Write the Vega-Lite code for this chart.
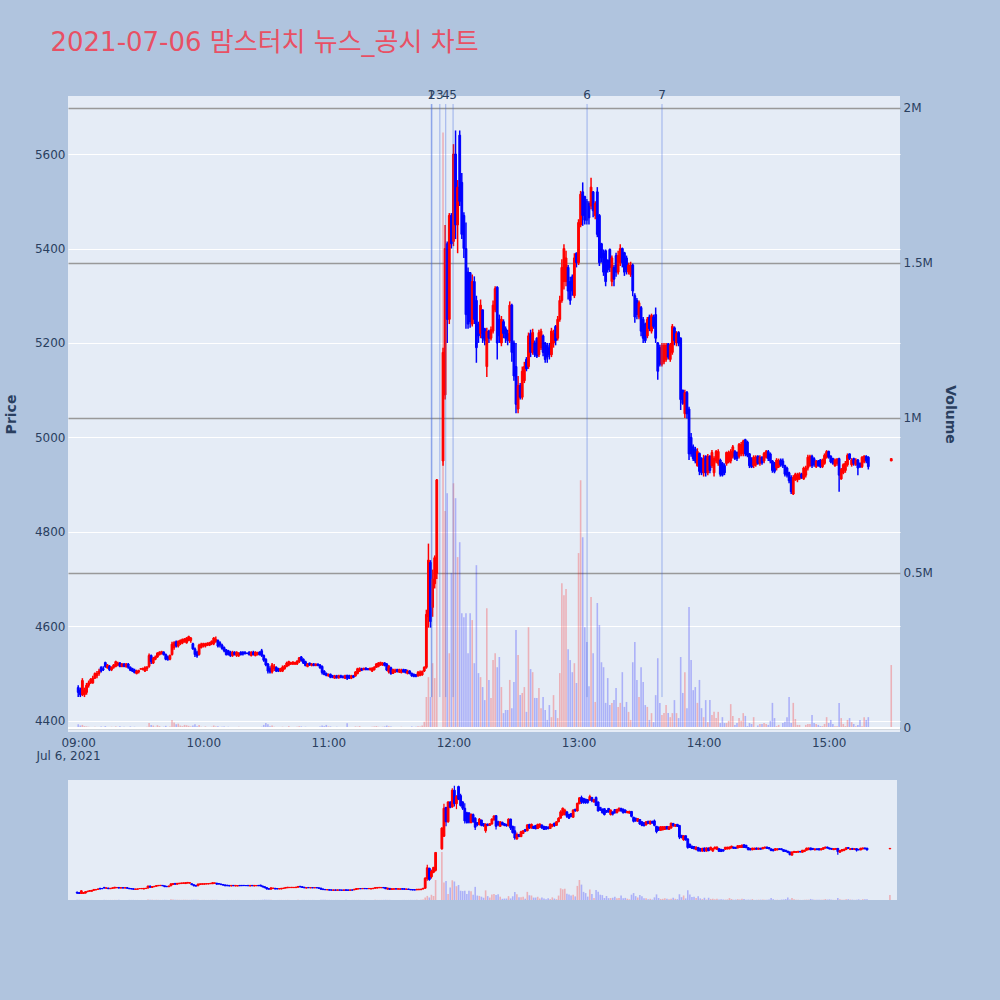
{
"$schema":"https://vega.github.io/schema/vega-lite/v6.json",
"background":"#B0C4DE",
"padding":{"left":4,"top":30,"right":43,"bottom":100},
"config":{"view":{"fill":"#E5ECF6","stroke":null},"font":"DejaVu Sans",
"axis":{"labelFont":"DejaVu Sans","titleFont":"DejaVu Sans","labelColor":"#2a3f5f","titleColor":"#2a3f5f","labelFontSize":12,"titleFontSize":14,"titleFontWeight":"bold","domain":false,"ticks":false}},
"title":{"text":"2021-07-06 맘스터치 뉴스_공시 차트","anchor":"start","dx":46,"offset":33,"font":"DejaVu Sans, Noto Sans CJK KR","fontSize":26,"fontWeight":"normal","color":"#E85064"},
"data":{"values":[
{"t":"2021-07-06T09:00","o":4470,"h":4475,"l":4450,"c":4460,"v":12000},
{"t":"2021-07-06T09:01","o":4465,"h":4470,"l":4450,"c":4455,"v":8000},
{"t":"2021-07-06T09:02","o":4455,"h":4490,"l":4452,"c":4485,"v":10000},
{"t":"2021-07-06T09:03","o":4455,"h":4470,"l":4450,"c":4465,"v":6000},
{"t":"2021-07-06T09:04","o":4460,"h":4480,"l":4455,"c":4475,"v":5000},
{"t":"2021-07-06T09:05","o":4475,"h":4485,"l":4470,"c":4480,"v":4000},
{"t":"2021-07-06T09:06","o":4480,"h":4490,"l":4478,"c":4488,"v":3000},
{"t":"2021-07-06T09:07","o":4480,"h":4495,"l":4478,"c":4490,"v":3000},
{"t":"2021-07-06T09:08","o":4490,"h":4502,"l":4488,"c":4500,"v":4000},
{"t":"2021-07-06T09:09","o":4495,"h":4505,"l":4490,"c":4500,"v":2000},
{"t":"2021-07-06T09:10","o":4500,"h":4510,"l":4495,"c":4505,"v":3000},
{"t":"2021-07-06T09:11","o":4513,"h":4515,"l":4502,"c":4505,"v":5000},
{"t":"2021-07-06T09:12","o":4510,"h":4515,"l":4505,"c":4508,"v":3000},
{"t":"2021-07-06T09:13","o":4523,"h":4525,"l":4512,"c":4515,"v":6000},
{"t":"2021-07-06T09:14","o":4512,"h":4520,"l":4510,"c":4518,"v":3000},
{"t":"2021-07-06T09:15","o":4515,"h":4518,"l":4505,"c":4508,"v":2000},
{"t":"2021-07-06T09:16","o":4508,"h":4515,"l":4505,"c":4513,"v":4000},
{"t":"2021-07-06T09:17","o":4513,"h":4520,"l":4510,"c":4518,"v":3000},
{"t":"2021-07-06T09:18","o":4515,"h":4527,"l":4513,"c":4525,"v":5000},
{"t":"2021-07-06T09:19","o":4518,"h":4525,"l":4515,"c":4522,"v":3000},
{"t":"2021-07-06T09:20","o":4522,"h":4524,"l":4513,"c":4515,"v":6000},
{"t":"2021-07-06T09:21","o":4515,"h":4522,"l":4513,"c":4520,"v":2000},
{"t":"2021-07-06T09:22","o":4520,"h":4522,"l":4513,"c":4515,"v":4000},
{"t":"2021-07-06T09:23","o":4515,"h":4522,"l":4512,"c":4520,"v":3000},
{"t":"2021-07-06T09:24","o":4520,"h":4522,"l":4510,"c":4513,"v":2000},
{"t":"2021-07-06T09:25","o":4513,"h":4515,"l":4505,"c":4507,"v":5000},
{"t":"2021-07-06T09:26","o":4510,"h":4512,"l":4503,"c":4505,"v":3000},
{"t":"2021-07-06T09:27","o":4507,"h":4510,"l":4500,"c":4502,"v":4000},
{"t":"2021-07-06T09:28","o":4500,"h":4508,"l":4498,"c":4505,"v":2000},
{"t":"2021-07-06T09:29","o":4503,"h":4508,"l":4500,"c":4506,"v":3000},
{"t":"2021-07-06T09:30","o":4509,"h":4511,"l":4509,"c":4510,"v":1000},
{"t":"2021-07-06T09:31","o":4508,"h":4512,"l":4507,"c":4511,"v":2000},
{"t":"2021-07-06T09:32","o":4505,"h":4515,"l":4503,"c":4512,"v":3000},
{"t":"2021-07-06T09:33","o":4510,"h":4516,"l":4505,"c":4513,"v":4000},
{"t":"2021-07-06T09:34","o":4515,"h":4542,"l":4512,"c":4538,"v":16000},
{"t":"2021-07-06T09:35","o":4538,"h":4540,"l":4520,"c":4525,"v":10000},
{"t":"2021-07-06T09:36","o":4522,"h":4535,"l":4520,"c":4532,"v":8000},
{"t":"2021-07-06T09:37","o":4530,"h":4538,"l":4528,"c":4535,"v":4000},
{"t":"2021-07-06T09:38","o":4535,"h":4545,"l":4533,"c":4543,"v":9000},
{"t":"2021-07-06T09:39","o":4540,"h":4547,"l":4538,"c":4545,"v":6000},
{"t":"2021-07-06T09:40","o":4542,"h":4548,"l":4540,"c":4546,"v":3000},
{"t":"2021-07-06T09:41","o":4545,"h":4547,"l":4538,"c":4540,"v":4000},
{"t":"2021-07-06T09:42","o":4540,"h":4542,"l":4528,"c":4530,"v":7000},
{"t":"2021-07-06T09:43","o":4535,"h":4538,"l":4527,"c":4530,"v":3000},
{"t":"2021-07-06T09:44","o":4530,"h":4540,"l":4528,"c":4538,"v":5000},
{"t":"2021-07-06T09:45","o":4540,"h":4567,"l":4538,"c":4562,"v":26000},
{"t":"2021-07-06T09:46","o":4555,"h":4568,"l":4550,"c":4565,"v":18000},
{"t":"2021-07-06T09:47","o":4567,"h":4570,"l":4555,"c":4558,"v":12000},
{"t":"2021-07-06T09:48","o":4558,"h":4570,"l":4555,"c":4568,"v":14000},
{"t":"2021-07-06T09:49","o":4563,"h":4572,"l":4560,"c":4570,"v":8000},
{"t":"2021-07-06T09:50","o":4565,"h":4574,"l":4562,"c":4572,"v":6000},
{"t":"2021-07-06T09:51","o":4568,"h":4575,"l":4565,"c":4573,"v":10000},
{"t":"2021-07-06T09:52","o":4565,"h":4577,"l":4563,"c":4575,"v":9000},
{"t":"2021-07-06T09:53","o":4570,"h":4580,"l":4568,"c":4578,"v":7000},
{"t":"2021-07-06T09:54","o":4570,"h":4577,"l":4565,"c":4575,"v":5000},
{"t":"2021-07-06T09:55","o":4563,"h":4565,"l":4550,"c":4552,"v":8000},
{"t":"2021-07-06T09:56","o":4552,"h":4555,"l":4535,"c":4540,"v":12000},
{"t":"2021-07-06T09:57","o":4545,"h":4548,"l":4533,"c":4537,"v":6000},
{"t":"2021-07-06T09:58","o":4540,"h":4563,"l":4538,"c":4560,"v":10000},
{"t":"2021-07-06T09:59","o":4555,"h":4565,"l":4553,"c":4562,"v":4000},
{"t":"2021-07-06T10:00","o":4558,"h":4565,"l":4555,"c":4563,"v":3000},
{"t":"2021-07-06T10:01","o":4558,"h":4565,"l":4555,"c":4563,"v":5000},
{"t":"2021-07-06T10:02","o":4560,"h":4566,"l":4558,"c":4564,"v":2000},
{"t":"2021-07-06T10:03","o":4560,"h":4567,"l":4558,"c":4565,"v":3000},
{"t":"2021-07-06T10:04","o":4563,"h":4570,"l":4560,"c":4568,"v":4000},
{"t":"2021-07-06T10:05","o":4563,"h":4577,"l":4560,"c":4575,"v":8000},
{"t":"2021-07-06T10:06","o":4568,"h":4578,"l":4565,"c":4572,"v":5000},
{"t":"2021-07-06T10:07","o":4570,"h":4572,"l":4555,"c":4558,"v":6000},
{"t":"2021-07-06T10:08","o":4565,"h":4568,"l":4555,"c":4560,"v":3000},
{"t":"2021-07-06T10:09","o":4560,"h":4563,"l":4550,"c":4553,"v":4000},
{"t":"2021-07-06T10:10","o":4555,"h":4557,"l":4545,"c":4548,"v":5000},
{"t":"2021-07-06T10:11","o":4550,"h":4552,"l":4538,"c":4540,"v":3000},
{"t":"2021-07-06T10:12","o":4548,"h":4550,"l":4538,"c":4540,"v":4000},
{"t":"2021-07-06T10:13","o":4545,"h":4548,"l":4535,"c":4538,"v":2000},
{"t":"2021-07-06T10:14","o":4538,"h":4548,"l":4535,"c":4545,"v":3000},
{"t":"2021-07-06T10:15","o":4545,"h":4547,"l":4538,"c":4540,"v":2000},
{"t":"2021-07-06T10:16","o":4538,"h":4547,"l":4535,"c":4545,"v":3000},
{"t":"2021-07-06T10:17","o":4538,"h":4545,"l":4535,"c":4543,"v":4000},
{"t":"2021-07-06T10:18","o":4545,"h":4547,"l":4538,"c":4540,"v":2000},
{"t":"2021-07-06T10:19","o":4545,"h":4547,"l":4538,"c":4541,"v":2000},
{"t":"2021-07-06T10:20","o":4545,"h":4547,"l":4540,"c":4542,"v":3000},
{"t":"2021-07-06T10:21","o":4543,"h":4544,"l":4541,"c":4542,"v":1000},
{"t":"2021-07-06T10:22","o":4545,"h":4547,"l":4538,"c":4540,"v":2000},
{"t":"2021-07-06T10:23","o":4538,"h":4547,"l":4536,"c":4545,"v":3000},
{"t":"2021-07-06T10:24","o":4545,"h":4548,"l":4538,"c":4540,"v":2000},
{"t":"2021-07-06T10:25","o":4538,"h":4547,"l":4536,"c":4545,"v":3000},
{"t":"2021-07-06T10:26","o":4540,"h":4546,"l":4538,"c":4544,"v":2000},
{"t":"2021-07-06T10:27","o":4545,"h":4547,"l":4538,"c":4540,"v":3000},
{"t":"2021-07-06T10:28","o":4548,"h":4552,"l":4535,"c":4538,"v":4000},
{"t":"2021-07-06T10:29","o":4538,"h":4540,"l":4525,"c":4528,"v":10000},
{"t":"2021-07-06T10:30","o":4530,"h":4532,"l":4515,"c":4518,"v":16000},
{"t":"2021-07-06T10:31","o":4520,"h":4522,"l":4500,"c":4505,"v":12000},
{"t":"2021-07-06T10:32","o":4510,"h":4515,"l":4500,"c":4503,"v":6000},
{"t":"2021-07-06T10:33","o":4503,"h":4522,"l":4500,"c":4518,"v":8000},
{"t":"2021-07-06T10:34","o":4510,"h":4520,"l":4505,"c":4515,"v":4000},
{"t":"2021-07-06T10:35","o":4513,"h":4515,"l":4503,"c":4505,"v":3000},
{"t":"2021-07-06T10:36","o":4510,"h":4512,"l":4503,"c":4505,"v":2000},
{"t":"2021-07-06T10:37","o":4505,"h":4512,"l":4503,"c":4510,"v":3000},
{"t":"2021-07-06T10:38","o":4505,"h":4517,"l":4503,"c":4513,"v":4000},
{"t":"2021-07-06T10:39","o":4510,"h":4518,"l":4508,"c":4515,"v":2000},
{"t":"2021-07-06T10:40","o":4515,"h":4525,"l":4513,"c":4522,"v":3000},
{"t":"2021-07-06T10:41","o":4518,"h":4527,"l":4515,"c":4525,"v":6000},
{"t":"2021-07-06T10:42","o":4520,"h":4525,"l":4518,"c":4523,"v":2000},
{"t":"2021-07-06T10:43","o":4520,"h":4526,"l":4518,"c":4524,"v":3000},
{"t":"2021-07-06T10:44","o":4520,"h":4525,"l":4518,"c":4523,"v":2000},
{"t":"2021-07-06T10:45","o":4520,"h":4528,"l":4518,"c":4526,"v":4000},
{"t":"2021-07-06T10:46","o":4525,"h":4535,"l":4522,"c":4533,"v":6000},
{"t":"2021-07-06T10:47","o":4535,"h":4537,"l":4525,"c":4528,"v":5000},
{"t":"2021-07-06T10:48","o":4530,"h":4532,"l":4520,"c":4522,"v":3000},
{"t":"2021-07-06T10:49","o":4525,"h":4527,"l":4515,"c":4517,"v":4000},
{"t":"2021-07-06T10:50","o":4515,"h":4522,"l":4513,"c":4520,"v":2000},
{"t":"2021-07-06T10:51","o":4522,"h":4523,"l":4516,"c":4518,"v":3000},
{"t":"2021-07-06T10:52","o":4517,"h":4522,"l":4515,"c":4520,"v":2000},
{"t":"2021-07-06T10:53","o":4520,"h":4522,"l":4515,"c":4517,"v":3000},
{"t":"2021-07-06T10:54","o":4517,"h":4521,"l":4515,"c":4520,"v":2000},
{"t":"2021-07-06T10:55","o":4520,"h":4521,"l":4515,"c":4517,"v":3000},
{"t":"2021-07-06T10:56","o":4518,"h":4520,"l":4510,"c":4512,"v":5000},
{"t":"2021-07-06T10:57","o":4515,"h":4517,"l":4498,"c":4502,"v":8000},
{"t":"2021-07-06T10:58","o":4505,"h":4507,"l":4496,"c":4498,"v":6000},
{"t":"2021-07-06T10:59","o":4500,"h":4502,"l":4494,"c":4496,"v":10000},
{"t":"2021-07-06T11:00","o":4495,"h":4500,"l":4493,"c":4498,"v":5000},
{"t":"2021-07-06T11:01","o":4498,"h":4500,"l":4490,"c":4492,"v":5000},
{"t":"2021-07-06T11:02","o":4495,"h":4497,"l":4490,"c":4492,"v":3000},
{"t":"2021-07-06T11:03","o":4490,"h":4497,"l":4489,"c":4495,"v":2000},
{"t":"2021-07-06T11:04","o":4495,"h":4497,"l":4489,"c":4491,"v":4000},
{"t":"2021-07-06T11:05","o":4491,"h":4497,"l":4489,"c":4495,"v":3000},
{"t":"2021-07-06T11:06","o":4495,"h":4497,"l":4490,"c":4492,"v":2000},
{"t":"2021-07-06T11:07","o":4493,"h":4496,"l":4490,"c":4491,"v":3000},
{"t":"2021-07-06T11:08","o":4490,"h":4497,"l":4488,"c":4495,"v":3000},
{"t":"2021-07-06T11:09","o":4496,"h":4497,"l":4486,"c":4490,"v":15000},
{"t":"2021-07-06T11:10","o":4495,"h":4497,"l":4488,"c":4490,"v":3000},
{"t":"2021-07-06T11:11","o":4490,"h":4497,"l":4488,"c":4495,"v":2000},
{"t":"2021-07-06T11:12","o":4495,"h":4497,"l":4490,"c":4492,"v":3000},
{"t":"2021-07-06T11:13","o":4495,"h":4505,"l":4493,"c":4503,"v":5000},
{"t":"2021-07-06T11:14","o":4500,"h":4512,"l":4498,"c":4510,"v":4000},
{"t":"2021-07-06T11:15","o":4505,"h":4513,"l":4503,"c":4510,"v":6000},
{"t":"2021-07-06T11:16","o":4510,"h":4512,"l":4505,"c":4507,"v":3000},
{"t":"2021-07-06T11:17","o":4508,"h":4512,"l":4507,"c":4511,"v":2000},
{"t":"2021-07-06T11:18","o":4511,"h":4513,"l":4507,"c":4508,"v":3000},
{"t":"2021-07-06T11:19","o":4510,"h":4511,"l":4507,"c":4508,"v":2000},
{"t":"2021-07-06T11:20","o":4508,"h":4512,"l":4506,"c":4511,"v":3000},
{"t":"2021-07-06T11:21","o":4505,"h":4513,"l":4503,"c":4511,"v":4000},
{"t":"2021-07-06T11:22","o":4508,"h":4515,"l":4506,"c":4513,"v":5000},
{"t":"2021-07-06T11:23","o":4513,"h":4522,"l":4512,"c":4520,"v":6000},
{"t":"2021-07-06T11:24","o":4515,"h":4524,"l":4513,"c":4522,"v":4000},
{"t":"2021-07-06T11:25","o":4518,"h":4525,"l":4516,"c":4523,"v":3000},
{"t":"2021-07-06T11:26","o":4518,"h":4524,"l":4516,"c":4522,"v":4000},
{"t":"2021-07-06T11:27","o":4522,"h":4524,"l":4515,"c":4517,"v":5000},
{"t":"2021-07-06T11:28","o":4520,"h":4522,"l":4505,"c":4507,"v":8000},
{"t":"2021-07-06T11:29","o":4503,"h":4518,"l":4500,"c":4515,"v":6000},
{"t":"2021-07-06T11:30","o":4512,"h":4514,"l":4497,"c":4500,"v":5000},
{"t":"2021-07-06T11:31","o":4500,"h":4510,"l":4499,"c":4508,"v":3000},
{"t":"2021-07-06T11:32","o":4503,"h":4510,"l":4501,"c":4507,"v":2000},
{"t":"2021-07-06T11:33","o":4508,"h":4510,"l":4502,"c":4504,"v":3000},
{"t":"2021-07-06T11:34","o":4503,"h":4510,"l":4501,"c":4508,"v":2000},
{"t":"2021-07-06T11:35","o":4502,"h":4510,"l":4500,"c":4507,"v":4000},
{"t":"2021-07-06T11:36","o":4508,"h":4510,"l":4502,"c":4503,"v":2000},
{"t":"2021-07-06T11:37","o":4508,"h":4509,"l":4500,"c":4502,"v":3000},
{"t":"2021-07-06T11:38","o":4500,"h":4508,"l":4498,"c":4505,"v":2000},
{"t":"2021-07-06T11:39","o":4505,"h":4507,"l":4498,"c":4500,"v":3000},
{"t":"2021-07-06T11:40","o":4500,"h":4502,"l":4493,"c":4495,"v":5000},
{"t":"2021-07-06T11:41","o":4498,"h":4500,"l":4492,"c":4494,"v":3000},
{"t":"2021-07-06T11:42","o":4497,"h":4499,"l":4492,"c":4494,"v":4000},
{"t":"2021-07-06T11:43","o":4495,"h":4505,"l":4493,"c":4502,"v":6000},
{"t":"2021-07-06T11:44","o":4496,"h":4506,"l":4494,"c":4503,"v":5000},
{"t":"2021-07-06T11:45","o":4497,"h":4506,"l":4495,"c":4504,"v":8000},
{"t":"2021-07-06T11:46","o":4505,"h":4515,"l":4503,"c":4513,"v":20000},
{"t":"2021-07-06T11:47","o":4513,"h":4635,"l":4510,"c":4625,"v":100000},
{"t":"2021-07-06T11:48","o":4620,"h":4775,"l":4597,"c":4740,"v":164000},
{"t":"2021-07-06T11:49","o":4735,"h":4740,"l":4597,"c":4610,"v":100000},
{"t":"2021-07-06T11:50","o":4640,"h":4720,"l":4620,"c":4700,"v":209000},
{"t":"2021-07-06T11:51","o":4690,"h":4750,"l":4680,"c":4745,"v":161000},
{"t":"2021-07-06T11:52","o":4712,"h":4912,"l":4700,"c":4910,"v":799000},
{"t":"2021-07-06T11:55","o":4950,"h":5190,"l":4940,"c":5180,"v":1920000},
{"t":"2021-07-06T11:56","o":5090,"h":5450,"l":5080,"c":5400,"v":700000},
{"t":"2021-07-06T11:57","o":5410,"h":5415,"l":5200,"c":5250,"v":757000},
{"t":"2021-07-06T11:58","o":5250,"h":5475,"l":5240,"c":5470,"v":241000},
{"t":"2021-07-06T11:59","o":5470,"h":5475,"l":5400,"c":5410,"v":500000},
{"t":"2021-07-06T12:00","o":5415,"h":5621,"l":5405,"c":5600,"v":789000},
{"t":"2021-07-06T12:01","o":5600,"h":5650,"l":5420,"c":5450,"v":741000},
{"t":"2021-07-06T12:02","o":5450,"h":5545,"l":5390,"c":5530,"v":551000},
{"t":"2021-07-06T12:03","o":5640,"h":5650,"l":5490,"c":5500,"v":599000},
{"t":"2021-07-06T12:04","o":5540,"h":5560,"l":5420,"c":5430,"v":370000},
{"t":"2021-07-06T12:05","o":5470,"h":5477,"l":5380,"c":5400,"v":357000},
{"t":"2021-07-06T12:06","o":5400,"h":5455,"l":5230,"c":5260,"v":370000},
{"t":"2021-07-06T12:07","o":5350,"h":5360,"l":5230,"c":5240,"v":241000},
{"t":"2021-07-06T12:08","o":5349,"h":5350,"l":5232,"c":5245,"v":370000},
{"t":"2021-07-06T12:09","o":5240,"h":5345,"l":5235,"c":5330,"v":348000},
{"t":"2021-07-06T12:10","o":5330,"h":5341,"l":5240,"c":5250,"v":209000},
{"t":"2021-07-06T12:11","o":5290,"h":5300,"l":5158,"c":5190,"v":525000},
{"t":"2021-07-06T12:12","o":5240,"h":5245,"l":5200,"c":5215,"v":177000},
{"t":"2021-07-06T12:13","o":5220,"h":5292,"l":5210,"c":5280,"v":164000},
{"t":"2021-07-06T12:14","o":5270,"h":5271,"l":5200,"c":5210,"v":132000},
{"t":"2021-07-06T12:15","o":5230,"h":5232,"l":5195,"c":5205,"v":90000},
{"t":"2021-07-06T12:16","o":5150,"h":5232,"l":5128,"c":5225,"v":386000},
{"t":"2021-07-06T12:17","o":5225,"h":5228,"l":5200,"c":5210,"v":155000},
{"t":"2021-07-06T12:18","o":5210,"h":5235,"l":5205,"c":5228,"v":97000},
{"t":"2021-07-06T12:19","o":5225,"h":5290,"l":5220,"c":5280,"v":219000},
{"t":"2021-07-06T12:20","o":5270,"h":5320,"l":5265,"c":5315,"v":241000},
{"t":"2021-07-06T12:21","o":5318,"h":5320,"l":5165,"c":5200,"v":196000},
{"t":"2021-07-06T12:22","o":5250,"h":5260,"l":5200,"c":5215,"v":229000},
{"t":"2021-07-06T12:23","o":5200,"h":5257,"l":5193,"c":5250,"v":132000},
{"t":"2021-07-06T12:24","o":5245,"h":5250,"l":5210,"c":5220,"v":48000},
{"t":"2021-07-06T12:25","o":5230,"h":5235,"l":5200,"c":5210,"v":58000},
{"t":"2021-07-06T12:26","o":5220,"h":5228,"l":5195,"c":5205,"v":58000},
{"t":"2021-07-06T12:27","o":5205,"h":5288,"l":5200,"c":5280,"v":155000},
{"t":"2021-07-06T12:28","o":5280,"h":5283,"l":5160,"c":5180,"v":64000},
{"t":"2021-07-06T12:29","o":5200,"h":5205,"l":5120,"c":5130,"v":148000},
{"t":"2021-07-06T12:30","o":5150,"h":5200,"l":5051,"c":5070,"v":316000},
{"t":"2021-07-06T12:31","o":5060,"h":5130,"l":5051,"c":5110,"v":235000},
{"t":"2021-07-06T12:32","o":5110,"h":5115,"l":5080,"c":5085,"v":106000},
{"t":"2021-07-06T12:33","o":5085,"h":5150,"l":5080,"c":5140,"v":113000},
{"t":"2021-07-06T12:34","o":5120,"h":5160,"l":5115,"c":5150,"v":132000},
{"t":"2021-07-06T12:35","o":5165,"h":5170,"l":5140,"c":5145,"v":52000},
{"t":"2021-07-06T12:36","o":5150,"h":5222,"l":5145,"c":5215,"v":325000},
{"t":"2021-07-06T12:37","o":5220,"h":5228,"l":5170,"c":5180,"v":190000},
{"t":"2021-07-06T12:38","o":5180,"h":5230,"l":5175,"c":5222,"v":180000},
{"t":"2021-07-06T12:39","o":5200,"h":5205,"l":5170,"c":5175,"v":97000},
{"t":"2021-07-06T12:40","o":5210,"h":5212,"l":5168,"c":5172,"v":97000},
{"t":"2021-07-06T12:41","o":5175,"h":5228,"l":5170,"c":5222,"v":129000},
{"t":"2021-07-06T12:42","o":5190,"h":5230,"l":5185,"c":5225,"v":64000},
{"t":"2021-07-06T12:43","o":5215,"h":5218,"l":5172,"c":5180,"v":100000},
{"t":"2021-07-06T12:44","o":5200,"h":5202,"l":5158,"c":5165,"v":58000},
{"t":"2021-07-06T12:45","o":5195,"h":5200,"l":5158,"c":5170,"v":26000},
{"t":"2021-07-06T12:46","o":5190,"h":5200,"l":5165,"c":5175,"v":74000},
{"t":"2021-07-06T12:47","o":5175,"h":5232,"l":5170,"c":5225,"v":35000},
{"t":"2021-07-06T12:48","o":5200,"h":5228,"l":5190,"c":5220,"v":106000},
{"t":"2021-07-06T12:49","o":5235,"h":5238,"l":5195,"c":5205,"v":58000},
{"t":"2021-07-06T12:50","o":5210,"h":5257,"l":5205,"c":5250,"v":32000},
{"t":"2021-07-06T12:51","o":5250,"h":5300,"l":5245,"c":5290,"v":177000},
{"t":"2021-07-06T12:52","o":5290,"h":5377,"l":5285,"c":5360,"v":467000},
{"t":"2021-07-06T12:53","o":5330,"h":5409,"l":5313,"c":5400,"v":428000},
{"t":"2021-07-06T12:54","o":5330,"h":5395,"l":5320,"c":5380,"v":448000},
{"t":"2021-07-06T12:55","o":5360,"h":5365,"l":5292,"c":5310,"v":254000},
{"t":"2021-07-06T12:56","o":5330,"h":5340,"l":5281,"c":5290,"v":219000},
{"t":"2021-07-06T12:57","o":5340,"h":5345,"l":5300,"c":5310,"v":180000},
{"t":"2021-07-06T12:58","o":5300,"h":5390,"l":5295,"c":5380,"v":209000},
{"t":"2021-07-06T12:59","o":5390,"h":5392,"l":5360,"c":5370,"v":145000},
{"t":"2021-07-06T13:00","o":5370,"h":5462,"l":5365,"c":5455,"v":564000},
{"t":"2021-07-06T13:01","o":5450,"h":5522,"l":5445,"c":5515,"v":799000},
{"t":"2021-07-06T13:02","o":5520,"h":5540,"l":5448,"c":5470,"v":615000},
{"t":"2021-07-06T13:03","o":5510,"h":5512,"l":5451,"c":5460,"v":325000},
{"t":"2021-07-06T13:04","o":5500,"h":5505,"l":5451,"c":5460,"v":277000},
{"t":"2021-07-06T13:05","o":5495,"h":5500,"l":5451,"c":5465,"v":135000},
{"t":"2021-07-06T13:06","o":5490,"h":5550,"l":5483,"c":5530,"v":422000},
{"t":"2021-07-06T13:07","o":5520,"h":5522,"l":5466,"c":5480,"v":241000},
{"t":"2021-07-06T13:08","o":5470,"h":5500,"l":5462,"c":5495,"v":84000},
{"t":"2021-07-06T13:09","o":5520,"h":5530,"l":5424,"c":5430,"v":403000},
{"t":"2021-07-06T13:10","o":5470,"h":5473,"l":5363,"c":5370,"v":332000},
{"t":"2021-07-06T13:11","o":5410,"h":5412,"l":5370,"c":5380,"v":212000},
{"t":"2021-07-06T13:12","o":5390,"h":5398,"l":5342,"c":5350,"v":196000},
{"t":"2021-07-06T13:13","o":5395,"h":5398,"l":5320,"c":5330,"v":81000},
{"t":"2021-07-06T13:14","o":5375,"h":5377,"l":5349,"c":5355,"v":161000},
{"t":"2021-07-06T13:15","o":5398,"h":5400,"l":5350,"c":5360,"v":74000},
{"t":"2021-07-06T13:16","o":5330,"h":5385,"l":5320,"c":5380,"v":81000},
{"t":"2021-07-06T13:17","o":5360,"h":5365,"l":5320,"c":5335,"v":90000},
{"t":"2021-07-06T13:18","o":5385,"h":5391,"l":5340,"c":5350,"v":129000},
{"t":"2021-07-06T13:19","o":5350,"h":5395,"l":5345,"c":5385,"v":68000},
{"t":"2021-07-06T13:20","o":5370,"h":5409,"l":5363,"c":5400,"v":81000},
{"t":"2021-07-06T13:21","o":5400,"h":5402,"l":5360,"c":5370,"v":180000},
{"t":"2021-07-06T13:22","o":5391,"h":5393,"l":5342,"c":5350,"v":68000},
{"t":"2021-07-06T13:23","o":5380,"h":5385,"l":5345,"c":5355,"v":84000},
{"t":"2021-07-06T13:24","o":5350,"h":5370,"l":5345,"c":5365,"v":52000},
{"t":"2021-07-06T13:25","o":5345,"h":5372,"l":5340,"c":5365,"v":26000},
{"t":"2021-07-06T13:26","o":5365,"h":5368,"l":5299,"c":5310,"v":212000},
{"t":"2021-07-06T13:27","o":5300,"h":5305,"l":5243,"c":5255,"v":277000},
{"t":"2021-07-06T13:28","o":5290,"h":5295,"l":5250,"c":5260,"v":155000},
{"t":"2021-07-06T13:29","o":5255,"h":5290,"l":5250,"c":5285,"v":100000},
{"t":"2021-07-06T13:30","o":5275,"h":5278,"l":5214,"c":5225,"v":196000},
{"t":"2021-07-06T13:31","o":5250,"h":5255,"l":5200,"c":5210,"v":148000},
{"t":"2021-07-06T13:32","o":5240,"h":5243,"l":5200,"c":5205,"v":74000},
{"t":"2021-07-06T13:33","o":5215,"h":5255,"l":5210,"c":5250,"v":68000},
{"t":"2021-07-06T13:34","o":5255,"h":5260,"l":5225,"c":5230,"v":26000},
{"t":"2021-07-06T13:35","o":5225,"h":5262,"l":5220,"c":5258,"v":48000},
{"t":"2021-07-06T13:36","o":5255,"h":5260,"l":5230,"c":5235,"v":19000},
{"t":"2021-07-06T13:37","o":5260,"h":5275,"l":5200,"c":5210,"v":106000},
{"t":"2021-07-06T13:38","o":5200,"h":5202,"l":5122,"c":5140,"v":225000},
{"t":"2021-07-06T13:39","o":5190,"h":5196,"l":5150,"c":5155,"v":81000},
{"t":"2021-07-06T13:40","o":5155,"h":5200,"l":5150,"c":5195,"v":42000},
{"t":"2021-07-06T13:41","o":5160,"h":5200,"l":5155,"c":5195,"v":48000},
{"t":"2021-07-06T13:42","o":5165,"h":5200,"l":5160,"c":5195,"v":74000},
{"t":"2021-07-06T13:43","o":5198,"h":5200,"l":5165,"c":5170,"v":48000},
{"t":"2021-07-06T13:44","o":5165,"h":5200,"l":5160,"c":5195,"v":35000},
{"t":"2021-07-06T13:45","o":5180,"h":5240,"l":5175,"c":5235,"v":48000},
{"t":"2021-07-06T13:46","o":5232,"h":5235,"l":5195,"c":5205,"v":90000},
{"t":"2021-07-06T13:47","o":5200,"h":5225,"l":5193,"c":5220,"v":48000},
{"t":"2021-07-06T13:48","o":5222,"h":5225,"l":5193,"c":5200,"v":32000},
{"t":"2021-07-06T13:49","o":5210,"h":5212,"l":5058,"c":5080,"v":229000},
{"t":"2021-07-06T13:50","o":5100,"h":5101,"l":5069,"c":5072,"v":113000},
{"t":"2021-07-06T13:51","o":5050,"h":5101,"l":5041,"c":5095,"v":180000},
{"t":"2021-07-06T13:52","o":5095,"h":5098,"l":5040,"c":5050,"v":64000},
{"t":"2021-07-06T13:53","o":5060,"h":5065,"l":4952,"c":4965,"v":390000},
{"t":"2021-07-06T13:54","o":5000,"h":5009,"l":4959,"c":4965,"v":219000},
{"t":"2021-07-06T13:55","o":4980,"h":4985,"l":4950,"c":4955,"v":122000},
{"t":"2021-07-06T13:56","o":4975,"h":4980,"l":4945,"c":4950,"v":132000},
{"t":"2021-07-06T13:57","o":4940,"h":4977,"l":4938,"c":4970,"v":81000},
{"t":"2021-07-06T13:58","o":4966,"h":4968,"l":4920,"c":4928,"v":155000},
{"t":"2021-07-06T13:59","o":4955,"h":4958,"l":4920,"c":4925,"v":64000},
{"t":"2021-07-06T14:00","o":4925,"h":4963,"l":4917,"c":4955,"v":35000},
{"t":"2021-07-06T14:01","o":4960,"h":4962,"l":4917,"c":4925,"v":90000},
{"t":"2021-07-06T14:02","o":4925,"h":4965,"l":4920,"c":4960,"v":19000},
{"t":"2021-07-06T14:03","o":4960,"h":4962,"l":4924,"c":4930,"v":90000},
{"t":"2021-07-06T14:04","o":4940,"h":4973,"l":4935,"c":4968,"v":42000},
{"t":"2021-07-06T14:05","o":4925,"h":4960,"l":4917,"c":4955,"v":52000},
{"t":"2021-07-06T14:06","o":4950,"h":4973,"l":4945,"c":4970,"v":32000},
{"t":"2021-07-06T14:07","o":4945,"h":4975,"l":4940,"c":4970,"v":52000},
{"t":"2021-07-06T14:08","o":4952,"h":4955,"l":4917,"c":4922,"v":16000},
{"t":"2021-07-06T14:09","o":4945,"h":4948,"l":4917,"c":4920,"v":35000},
{"t":"2021-07-06T14:10","o":4940,"h":4945,"l":4920,"c":4925,"v":16000},
{"t":"2021-07-06T14:11","o":4945,"h":4970,"l":4940,"c":4968,"v":16000},
{"t":"2021-07-06T14:12","o":4948,"h":4972,"l":4945,"c":4968,"v":23000},
{"t":"2021-07-06T14:13","o":4950,"h":4975,"l":4945,"c":4970,"v":77000},
{"t":"2021-07-06T14:14","o":4960,"h":4984,"l":4955,"c":4980,"v":39000},
{"t":"2021-07-06T14:15","o":4970,"h":4973,"l":4952,"c":4955,"v":10000},
{"t":"2021-07-06T14:16","o":4968,"h":4970,"l":4950,"c":4955,"v":16000},
{"t":"2021-07-06T14:17","o":4960,"h":4988,"l":4955,"c":4985,"v":32000},
{"t":"2021-07-06T14:18","o":4965,"h":4990,"l":4960,"c":4985,"v":23000},
{"t":"2021-07-06T14:19","o":4965,"h":4995,"l":4960,"c":4992,"v":48000},
{"t":"2021-07-06T14:20","o":4995,"h":4997,"l":4960,"c":4965,"v":39000},
{"t":"2021-07-06T14:21","o":4990,"h":4993,"l":4958,"c":4962,"v":6000},
{"t":"2021-07-06T14:22","o":4965,"h":4967,"l":4935,"c":4940,"v":16000},
{"t":"2021-07-06T14:23","o":4955,"h":4958,"l":4935,"c":4938,"v":13000},
{"t":"2021-07-06T14:24","o":4940,"h":4962,"l":4935,"c":4958,"v":35000},
{"t":"2021-07-06T14:25","o":4942,"h":4962,"l":4938,"c":4958,"v":3000},
{"t":"2021-07-06T14:26","o":4960,"h":4962,"l":4942,"c":4945,"v":8000},
{"t":"2021-07-06T14:27","o":4945,"h":4962,"l":4940,"c":4958,"v":13000},
{"t":"2021-07-06T14:28","o":4958,"h":4960,"l":4942,"c":4946,"v":13000},
{"t":"2021-07-06T14:29","o":4950,"h":4969,"l":4945,"c":4966,"v":16000},
{"t":"2021-07-06T14:30","o":4958,"h":4973,"l":4955,"c":4970,"v":13000},
{"t":"2021-07-06T14:31","o":4970,"h":4973,"l":4950,"c":4955,"v":10000},
{"t":"2021-07-06T14:32","o":4965,"h":4968,"l":4945,"c":4950,"v":23000},
{"t":"2021-07-06T14:33","o":4950,"h":4952,"l":4925,"c":4930,"v":81000},
{"t":"2021-07-06T14:34","o":4945,"h":4948,"l":4924,"c":4928,"v":32000},
{"t":"2021-07-06T14:35","o":4935,"h":4956,"l":4930,"c":4952,"v":6000},
{"t":"2021-07-06T14:36","o":4938,"h":4955,"l":4935,"c":4950,"v":10000},
{"t":"2021-07-06T14:37","o":4952,"h":4955,"l":4938,"c":4942,"v":3000},
{"t":"2021-07-06T14:38","o":4950,"h":4955,"l":4935,"c":4940,"v":16000},
{"t":"2021-07-06T14:39","o":4940,"h":4942,"l":4917,"c":4922,"v":20000},
{"t":"2021-07-06T14:40","o":4935,"h":4938,"l":4915,"c":4920,"v":35000},
{"t":"2021-07-06T14:41","o":4925,"h":4927,"l":4903,"c":4908,"v":100000},
{"t":"2021-07-06T14:42","o":4915,"h":4920,"l":4880,"c":4885,"v":16000},
{"t":"2021-07-06T14:43","o":4880,"h":4920,"l":4878,"c":4915,"v":81000},
{"t":"2021-07-06T14:44","o":4910,"h":4925,"l":4908,"c":4922,"v":29000},
{"t":"2021-07-06T14:45","o":4910,"h":4925,"l":4905,"c":4920,"v":10000},
{"t":"2021-07-06T14:46","o":4912,"h":4926,"l":4910,"c":4923,"v":10000},
{"t":"2021-07-06T14:47","o":4922,"h":4925,"l":4912,"c":4915,"v":3000},
{"t":"2021-07-06T14:48","o":4912,"h":4938,"l":4910,"c":4935,"v":3000},
{"t":"2021-07-06T14:49","o":4920,"h":4940,"l":4915,"c":4935,"v":10000},
{"t":"2021-07-06T14:50","o":4935,"h":4963,"l":4930,"c":4958,"v":13000},
{"t":"2021-07-06T14:51","o":4940,"h":4963,"l":4938,"c":4960,"v":13000},
{"t":"2021-07-06T14:52","o":4960,"h":4963,"l":4935,"c":4940,"v":42000},
{"t":"2021-07-06T14:53","o":4955,"h":4958,"l":4938,"c":4942,"v":16000},
{"t":"2021-07-06T14:54","o":4938,"h":4952,"l":4935,"c":4950,"v":13000},
{"t":"2021-07-06T14:55","o":4950,"h":4952,"l":4938,"c":4940,"v":10000},
{"t":"2021-07-06T14:56","o":4952,"h":4954,"l":4935,"c":4938,"v":6000},
{"t":"2021-07-06T14:57","o":4938,"h":4955,"l":4935,"c":4952,"v":6000},
{"t":"2021-07-06T14:58","o":4945,"h":4966,"l":4942,"c":4962,"v":13000},
{"t":"2021-07-06T14:59","o":4958,"h":4973,"l":4955,"c":4970,"v":35000},
{"t":"2021-07-06T15:00","o":4970,"h":4972,"l":4955,"c":4958,"v":16000},
{"t":"2021-07-06T15:01","o":4960,"h":4962,"l":4945,"c":4948,"v":26000},
{"t":"2021-07-06T15:02","o":4955,"h":4957,"l":4942,"c":4945,"v":13000},
{"t":"2021-07-06T15:03","o":4940,"h":4955,"l":4938,"c":4952,"v":6000},
{"t":"2021-07-06T15:04","o":4945,"h":4956,"l":4940,"c":4954,"v":6000},
{"t":"2021-07-06T15:05","o":4955,"h":4957,"l":4885,"c":4920,"v":81000},
{"t":"2021-07-06T15:06","o":4912,"h":4935,"l":4910,"c":4932,"v":32000},
{"t":"2021-07-06T15:07","o":4925,"h":4945,"l":4922,"c":4942,"v":13000},
{"t":"2021-07-06T15:08","o":4930,"h":4950,"l":4925,"c":4945,"v":6000},
{"t":"2021-07-06T15:09","o":4942,"h":4966,"l":4938,"c":4962,"v":26000},
{"t":"2021-07-06T15:10","o":4965,"h":4966,"l":4952,"c":4955,"v":32000},
{"t":"2021-07-06T15:11","o":4942,"h":4956,"l":4938,"c":4952,"v":19000},
{"t":"2021-07-06T15:12","o":4955,"h":4957,"l":4940,"c":4945,"v":13000},
{"t":"2021-07-06T15:13","o":4942,"h":4956,"l":4940,"c":4952,"v":6000},
{"t":"2021-07-06T15:14","o":4952,"h":4954,"l":4920,"c":4935,"v":10000},
{"t":"2021-07-06T15:15","o":4945,"h":4947,"l":4935,"c":4938,"v":26000},
{"t":"2021-07-06T15:16","o":4938,"h":4960,"l":4935,"c":4958,"v":6000},
{"t":"2021-07-06T15:17","o":4948,"h":4962,"l":4945,"c":4960,"v":35000},
{"t":"2021-07-06T15:18","o":4960,"h":4962,"l":4945,"c":4950,"v":26000},
{"t":"2021-07-06T15:19","o":4958,"h":4960,"l":4932,"c":4938,"v":35000},
{"t":"2021-07-06T15:30","o":4950,"h":4955,"l":4950,"c":4955,"v":203000}
]},
"vconcat":[
{"width":832,"height":636,
"layer":[
{"mark":{"type":"bar","size":1.6,"opacity":0.25},
"encoding":{
"x":{"field":"t","type":"temporal","scale":{"domain":[{"year":2021,"month":7,"date":6,"hours":8,"minutes":57,"seconds":30},{"year":2021,"month":7,"date":6,"hours":15,"minutes":31,"seconds":48}]},
"axis":{"orient":"bottom","title":"Jul 6, 2021","titleAnchor":"start","titleAlign":"center","titleFontWeight":"normal","titleFontSize":12,"titlePadding":2,"grid":false,"format":"%H:%M","values":[{"year":2021,"month":7,"date":6,"hours":9},{"year":2021,"month":7,"date":6,"hours":10},{"year":2021,"month":7,"date":6,"hours":11},{"year":2021,"month":7,"date":6,"hours":12},{"year":2021,"month":7,"date":6,"hours":13},{"year":2021,"month":7,"date":6,"hours":14},{"year":2021,"month":7,"date":6,"hours":15}],"labelPadding":5,"labelFlush":false,"labelOverlap":false}},
"y":{"field":"v","type":"quantitative","scale":{"domain":[-12900,2037700],"nice":false,"zero":false},
"axis":{"orient":"right","title":"Volume","values":[0,500000,1000000,1500000,2000000],"labelExpr":"datum.value == 0 ? '0' : (datum.value/1000000) + 'M'","grid":true,"gridColor":"#999999","gridWidth":1.5,"labelPadding":3,"titlePadding":10}},
"y2":{"datum":0},
"color":{"condition":{"test":"datum.c > datum.o","value":"#FF0000"},"value":"#0000FF"}}},
{"mark":{"type":"rule","color":"#FFFFFF","strokeWidth":2},
"encoding":{"y":{"datum":0,"scale":{"domain":[-12900,2037700],"nice":false,"zero":false},"axis":null}}},
{"mark":{"type":"rule","strokeWidth":1.5},
"encoding":{
"x":{"field":"t","type":"temporal"},
"y":{"field":"l","type":"quantitative","scale":{"domain":[4376,5723],"nice":false,"zero":false},
"axis":{"orient":"left","title":"Price","values":[4400,4600,4800,5000,5200,5400,5600],"format":"d","grid":true,"gridColor":"#FFFFFF","gridWidth":1,"labelPadding":3,"titlePadding":16}},
"y2":{"field":"h"},
"color":{"condition":{"test":"datum.c > datum.o","value":"#FF0000"},"value":"#0000FF"}}},
{"mark":{"type":"bar","size":1.8,"strokeWidth":1},
"encoding":{
"x":{"field":"t","type":"temporal"},
"y":{"field":"o","type":"quantitative","scale":{"domain":[4376,5723],"nice":false,"zero":false},"axis":null},
"y2":{"field":"c"},
"color":{"condition":{"test":"datum.c > datum.o","value":"#FF0000"},"value":"#0000FF"},
"stroke":{"condition":{"test":"datum.c > datum.o","value":"#FF0000"},"value":"#0000FF"}}},
{"data":{"values":[{"n":"1","t":"2021-07-06T11:49:22"},{"n":"2","t":"2021-07-06T11:49:40"},{"n":"3","t":"2021-07-06T11:53:28"},{"n":"4","t":"2021-07-06T11:56:18"},{"n":"5","t":"2021-07-06T11:59:49"},{"n":"6","t":"2021-07-06T13:04:05"},{"n":"7","t":"2021-07-06T13:40:02"}]},
"mark":{"type":"rule","color":"#4169E1","opacity":0.45,"strokeWidth":1},
"encoding":{"x":{"field":"t","type":"temporal"},"y":{"datum":4450,"scale":{"domain":[4376,5723],"nice":false,"zero":false},"axis":null},"y2":{"datum":5706}}},
{"data":{"values":[{"n":"1","t":"2021-07-06T11:49:22"},{"n":"2","t":"2021-07-06T11:49:40"},{"n":"3","t":"2021-07-06T11:53:28"},{"n":"4","t":"2021-07-06T11:56:18"},{"n":"5","t":"2021-07-06T11:59:49"},{"n":"6","t":"2021-07-06T13:04:05"},{"n":"7","t":"2021-07-06T13:40:02"}]},
"mark":{"type":"text","baseline":"bottom","dy":-2,"fontSize":12,"color":"#2a3f5f","font":"DejaVu Sans"},
"encoding":{"x":{"field":"t","type":"temporal"},"y":{"datum":5706,"scale":{"domain":[4376,5723],"nice":false,"zero":false},"axis":null},"text":{"field":"n"}}}
],
"resolve":{"scale":{"y":"independent"},"axis":{"y":"independent"}}},
{"width":829,"height":120,
"layer":[
{"mark":{"type":"bar","size":1.6,"opacity":0.25},
"encoding":{
"x":{"field":"t","type":"temporal","scale":{"domain":[{"year":2021,"month":7,"date":6,"hours":8,"minutes":58},{"year":2021,"month":7,"date":6,"hours":15,"minutes":31}]},"axis":null},
"y":{"field":"v","type":"quantitative","scale":{"domain":[0,4800000],"nice":false},"axis":null},
"y2":{"datum":0},
"color":{"condition":{"test":"datum.c > datum.o","value":"#FF0000"},"value":"#0000FF"}}},
{"mark":{"type":"rule","strokeWidth":1.2},
"encoding":{
"x":{"field":"t","type":"temporal"},
"y":{"field":"l","type":"quantitative","scale":{"domain":[4383,5713],"nice":false,"zero":false},"axis":null},
"y2":{"field":"h"},
"color":{"condition":{"test":"datum.c > datum.o","value":"#FF0000"},"value":"#0000FF"}}},
{"mark":{"type":"bar","size":1.8,"strokeWidth":1},
"encoding":{
"x":{"field":"t","type":"temporal"},
"y":{"field":"o","type":"quantitative","scale":{"domain":[4383,5713],"nice":false,"zero":false},"axis":null},
"y2":{"field":"c"},
"color":{"condition":{"test":"datum.c > datum.o","value":"#FF0000"},"value":"#0000FF"},
"stroke":{"condition":{"test":"datum.c > datum.o","value":"#FF0000"},"value":"#0000FF"}}}
],
"resolve":{"scale":{"y":"independent"}}}
],
"spacing":48,
"bounds":"flush"
}
